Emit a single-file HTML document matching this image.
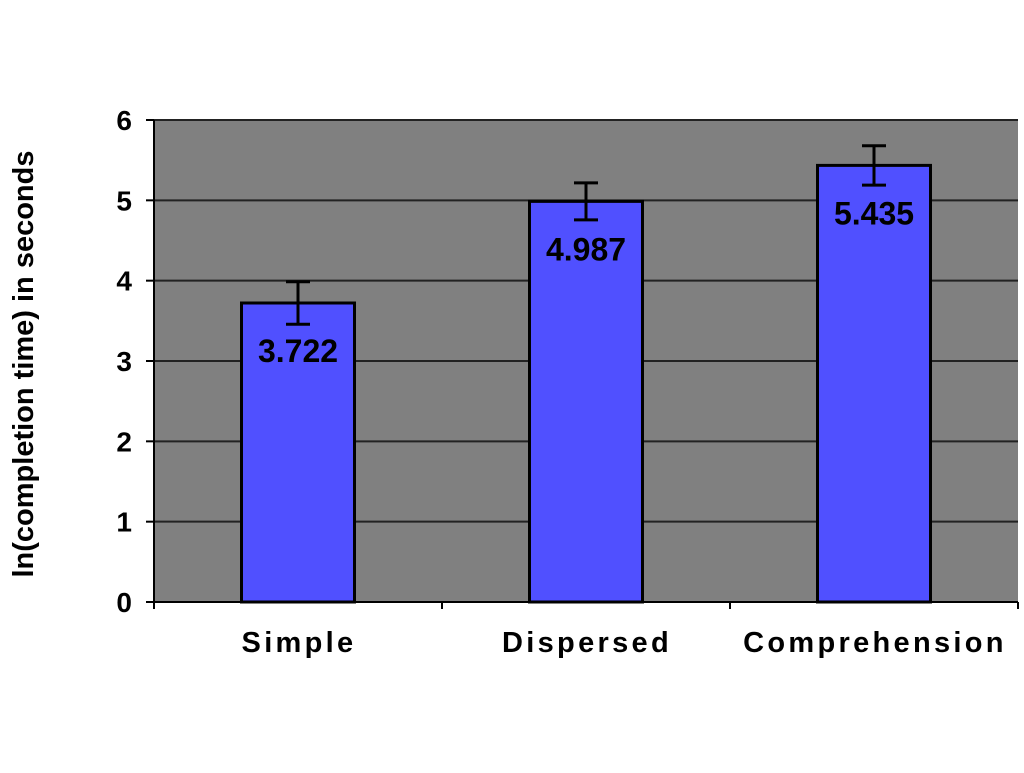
<!DOCTYPE html>
<html><head><meta charset="utf-8"><style>
body{margin:0;background:#fff}
svg text{font-family:"Liberation Sans",Arial,sans-serif;font-weight:bold;fill:#000}
</style></head><body>
<svg width="1024" height="768" xmlns="http://www.w3.org/2000/svg">
<g id="plot"></g>
</svg>
<script>
const categories=["Simple","Dispersed","Comprehension"];
const values=[3.722,4.987,5.435];
const errors=[0.265,0.23,0.245];
const valueLabels=["3.722","4.987","5.435"];
const yTicks=[0,1,2,3,4,5,6];
const L=154,R=1018,T=120,B=602,yMax=6;
const y=v=>B-(v/yMax)*(B-T);
const bw=(R-L)/categories.length;
const xc=i=>L+bw*(i+0.5);
const NS="http://www.w3.org/2000/svg";
const g=document.getElementById('plot');
function mk(tag,attrs,parent){const e=document.createElementNS(NS,tag);for(const k in attrs)e.setAttribute(k,attrs[k]);(parent||g).appendChild(e);return e;}
const bg=mk('rect',{x:L,y:T,width:R-L,height:B-T,fill:'#808080'});


yTicks.forEach(t=>{
  if(t>0){const gl=mk('line',{x1:L,x2:R,y1:y(t),y2:y(t),stroke:'#222','stroke-width':2});
  
  }
  const tk=mk('line',{x1:L-8,x2:L,y1:y(t),y2:y(t),stroke:'#000','stroke-width':2});
  
  
  const tx=mk('text',{x:132,y:y(t)+10,'text-anchor':'end','font-size':28});
  tx.textContent=t;
  
  
});
categories.forEach((c,i)=>{
  const w=113,cx=xc(i);
  const bar=mk('rect',{x:cx-w/2,y:y(values[i]),width:w,height:B-y(values[i]),fill:'#5050ff',stroke:'#000','stroke-width':3});
  
  
  const hi=y(values[i]+errors[i]),lo=y(values[i]-errors[i]);
  const eb=mk('path',{d:`M${cx},${hi}V${lo}M${cx-12},${hi}H${cx+12}M${cx-12},${lo}H${cx+12}`,stroke:'#000','stroke-width':3,fill:'none'});
  
  
  const vl=mk('text',{x:cx,y:y(values[i])+59,'text-anchor':'middle','font-size':32});
  vl.textContent=valueLabels[i];
  
  
  const cl=mk('text',{x:cx+1,y:652,'text-anchor':'middle','font-size':29,'letter-spacing':3.3});
  cl.textContent=c;
  
  
});
for(let i=0;i<=categories.length;i++){
  const t=mk('line',{x1:L+bw*i,x2:L+bw*i,y1:B,y2:B+7,stroke:'#000','stroke-width':2});
  
  
}
const ax=mk('line',{x1:L,x2:R,y1:B,y2:B,stroke:'#000','stroke-width':2});


const ay=mk('line',{x1:L,x2:L,y1:T,y2:B,stroke:'#000','stroke-width':2});


const yt=mk('text',{x:0,y:0,'text-anchor':'middle','font-size':29,transform:'translate(33,364) rotate(-90)'});
yt.textContent='ln(completion time) in seconds';


</script>
</body></html>
